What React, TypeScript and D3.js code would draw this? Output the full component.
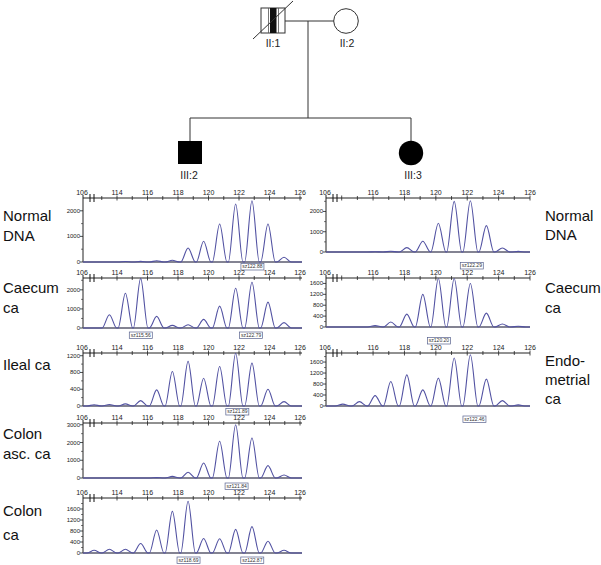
import React from "react";
import * as d3 from "d3";

// fragment sizes (bp) of the microsatellite peaks in each run
const leftPeakSizes = [112.5, 113.5, 114.55, 115.55, 116.6, 117.63, 118.66, 119.68, 120.73, 121.78, 122.85, 123.9, 124.95];
const rightPeakSizes = [114.07, 115.13, 116.13, 117.13, 118.15, 119.17, 120.16, 121.17, 122.2, 123.22, 124.24, 125.25];

// peak heights (RFU)
const normalDnaLeft = [0, 0, 20, 25, 50, 66, 547, 808, 1484, 2265, 2394, 1484, 184];
const caecumLeft = [0, 695, 1820, 2600, 608, 140, 170, 450, 1145, 2080, 2400, 1355, 280];
const ilealLeft = [30, 35, 50, 128, 384, 824, 1064, 664, 944, 1260, 1024, 400, 104];
const colonAscLeft = [0, 0, 0, 0, 20, 90, 320, 845, 2070, 3005, 2255, 695, 170];
const colonLeft = [98, 135, 135, 345, 837, 1513, 1882, 529, 520, 860, 960, 430, 98];
const normalDnaRight = [0, 0, 15, 40, 217, 533, 1417, 2500, 2530, 1300, 200, 30];
const caecumRight = [0, 0, 50, 182, 473, 1200, 1780, 1780, 1600, 509, 110, 30];
const endometrialRight = [70, 160, 378, 890, 1135, 586, 1014, 1746, 1868, 977, 195, 40];

// allele calls printed under the traces
const normalDnaLeftCalls = [122.88];
const caecumLeftCalls = [115.56, 122.79];
const ilealLeftCalls = [121.89];
const colonAscLeftCalls = [121.84];
const colonLeftCalls = [118.69, 122.87];
const normalDnaRightCalls = [122.29];
const caecumRightCalls = [120.2];
const endometrialRightCalls = [122.46];

// axis tick labels
const leftSizeLabels = [114, 116, 118, 120, 122, 124, 126];
const rightSizeLabels = [116, 118, 120, 122, 124, 126];
const startLabel = 106;
const rfuTicks1000 = [0, 1000, 2000];
const rfuTicks3000 = [0, 1000, 2000, 3000];
const rfuTicks400 = [0, 400, 800, 1200];
const rfuTicks1600 = [0, 400, 800, 1200, 1600];

const FONT = "'Liberation Sans', Arial, Helvetica, sans-serif";
const TRACE = "#5252a2";

const sides = {
  left: { sizes: leftPeakSizes, domain: [111.77, 126.13], range: [83, 302], labels: leftSizeLabels, firstTick: 113, textX: 3 },
  right: { sizes: rightPeakSizes, domain: [113.0, 126.0], range: [326, 530], labels: rightSizeLabels, firstTick: 114, textX: 545 },
};

const panels = [
  { side: "left", name: ["Normal", "DNA"], nameY: [221, 241], heights: normalDnaLeft, calls: normalDnaLeftCalls, yMax: 2500, ticks: rfuTicks1000, top: 198, base: 262, callY: 266.5 },
  { side: "left", name: ["Caecum", "ca"], nameY: [293, 313], heights: caecumLeft, calls: caecumLeftCalls, yMax: 2620, ticks: rfuTicks1000, top: 278, base: 328, callY: 335 },
  { side: "left", name: ["Ileal ca"], nameY: [370], heights: ilealLeft, calls: ilealLeftCalls, yMax: 1265, ticks: rfuTicks400, top: 353, base: 406, callY: 411.5 },
  { side: "left", name: ["Colon", "asc. ca"], nameY: [439, 459], heights: colonAscLeft, calls: colonAscLeftCalls, yMax: 3100, ticks: rfuTicks3000, top: 423, base: 478, callY: 486 },
  { side: "left", name: ["Colon", "ca"], nameY: [516, 540], heights: colonLeft, calls: colonLeftCalls, yMax: 2000, ticks: rfuTicks1600, top: 498, base: 553, callY: 560 },
  { side: "right", name: ["Normal", "DNA"], nameY: [221, 240], heights: normalDnaRight, calls: normalDnaRightCalls, yMax: 2665, ticks: rfuTicks1000, top: 198, base: 252, callY: 265.5 },
  { side: "right", name: ["Caecum", "ca"], nameY: [293, 313], heights: caecumRight, calls: caecumRightCalls, yMax: 1800, ticks: rfuTicks1600, top: 278, base: 327, callY: 340.5 },
  { side: "right", name: ["Endo-", "metrial", "ca"], nameY: [366, 385, 404], heights: endometrialRight, calls: endometrialRightCalls, yMax: 1930, ticks: rfuTicks1600, top: 353, base: 406, callY: 419 },
];

function Electropherogram({ p }) {
  const s = sides[p.side];
  const x = d3.scaleLinear().domain(s.domain).range(s.range);
  const y = d3.scaleLinear().domain([0, p.yMax]).range([p.base, p.top]);
  const [x0, x1] = s.range;

  // baseline - peak - baseline for every peak, flat in between
  const pts = [[s.domain[0], 0]];
  s.sizes.forEach((bp, i) => {
    const h = p.heights[i];
    if (!h) return;
    pts.push([bp - 0.48, 0], [bp, h], [bp + 0.48, 0]);
  });
  pts.push([s.domain[1], 0]);
  const line = d3.line().x(d => x(d[0])).y(d => y(d[1])).curve(d3.curveMonotoneX);

  const sizeTicks = d3.range(s.firstTick, 127);
  const step = p.ticks[1] - p.ticks[0];
  const minor = d3.range(step / 2, p.yMax, step);

  return (
    <g>
      {p.name.map((t, i) => (
        <text key={i} x={s.textX} y={p.nameY[i]} fontSize={15} fontFamily={FONT} fill="#111">{t}</text>
      ))}

      {/* size axis on top */}
      <line x1={x0} x2={x1} y1={p.top} y2={p.top} stroke="#222" strokeWidth={1} />
      {sizeTicks.map(t => (
        <line key={t} x1={x(t)} x2={x(t)} y1={p.top - (t % 2 ? 2 : 2.5)} y2={p.top + (t % 2 ? 2 : 2.5)} stroke="#222" strokeWidth={0.8} />
      ))}
      {s.labels.map(t => (
        <text key={t} x={x(t)} y={p.top - 3} fontSize={7} fontFamily={FONT} fill="#222" textAnchor="middle">{t}</text>
      ))}
      <text x={x0 - 1} y={p.top - 3} fontSize={7} fontFamily={FONT} fill="#222" textAnchor="middle">{startLabel}</text>
      <line x1={x0 + 7} x2={x0 + 7} y1={p.top - 4} y2={p.top + 4} stroke="#111" strokeWidth={1} />
      <line x1={x0 + 11} x2={x0 + 11} y1={p.top - 4} y2={p.top + 4} stroke="#111" strokeWidth={1} />

      {/* RFU axis */}
      <line x1={x0} x2={x0} y1={p.top - 3} y2={p.base} stroke="#222" strokeWidth={1} />
      {p.ticks.map(t => (
        <g key={t}>
          <line x1={x0 - 3} x2={x0} y1={y(t)} y2={y(t)} stroke="#222" strokeWidth={0.8} />
          <text x={x0 - 3} y={y(t) + 2} fontSize={6} fontFamily={FONT} fill="#222" textAnchor="end">{t}</text>
        </g>
      ))}
      {minor.map(t => (
        <line key={t} x1={x0 - 2} x2={x0} y1={y(t)} y2={y(t)} stroke="#222" strokeWidth={0.6} />
      ))}

      {/* baseline and trace */}
      <line x1={x0} x2={x1} y1={p.base} y2={p.base} stroke="#5a5a6e" strokeWidth={1.6} />
      <path d={line(pts)} fill="none" stroke={TRACE} strokeWidth={1.1} />

      {/* allele call boxes */}
      {p.calls.map(c => (
        <g key={c}>
          <rect x={x(c) - 11.5} y={p.callY - 3} width={23} height={6.5} fill="#fff" stroke="#58628e" strokeWidth={0.7} />
          <text x={x(c)} y={p.callY + 1.9} fontSize={5} fontFamily={FONT} fill="#333" textAnchor="middle">{"sz" + c.toFixed(2)}</text>
        </g>
      ))}
    </g>
  );
}

function Pedigree() {
  const st = { stroke: "#333", strokeWidth: 1, fill: "none" };
  const lbl = { fontSize: 10.5, fontFamily: FONT, fill: "#222", textAnchor: "middle" as const };
  return (
    <g>
      {/* generation II */}
      <line x1={285} x2={334} y1={21} y2={21} {...st} />
      <rect x={261} y={8} width={24} height={25} fill="#fff" stroke="#333" strokeWidth={1} />
      <line x1={268.5} x2={268.5} y1={8} y2={33} stroke="#555" strokeWidth={0.8} />
      <rect x={270} y={8} width={6.5} height={25} fill="#111" />
      <line x1={278.5} x2={278.5} y1={8} y2={33} stroke="#555" strokeWidth={0.8} />
      <line x1={253} x2={293} y1={39} y2={1} {...st} />
      <circle cx={346} cy={21} r={12.3} fill="#fff" stroke="#333" strokeWidth={1} />
      <text x={273} y={47} {...lbl}>II:1</text>
      <text x={347} y={47} {...lbl}>II:2</text>

      {/* descent and sibship */}
      <line x1={308} x2={308} y1={21} y2={118} {...st} />
      <line x1={190} x2={411} y1={118} y2={118} {...st} />
      <line x1={190} x2={190} y1={118} y2={141} {...st} />
      <line x1={411} x2={411} y1={118} y2={141} {...st} />

      {/* generation III */}
      <rect x={178} y={141} width={24} height={23} fill="#000" />
      <circle cx={411} cy={153} r={12.2} fill="#000" />
      <text x={189} y={179} {...lbl}>III:2</text>
      <text x={413} y={179} {...lbl}>III:3</text>
    </g>
  );
}

export default function App() {
  return (
    <svg width={601} height={565} style={{ position: "absolute", left: 0, top: 0, background: "#fff" }}>
      <rect width={601} height={565} fill="#fff" />
      <Pedigree />
      {panels.map((p, i) => <Electropherogram key={i} p={p} />)}
    </svg>
  );
}
